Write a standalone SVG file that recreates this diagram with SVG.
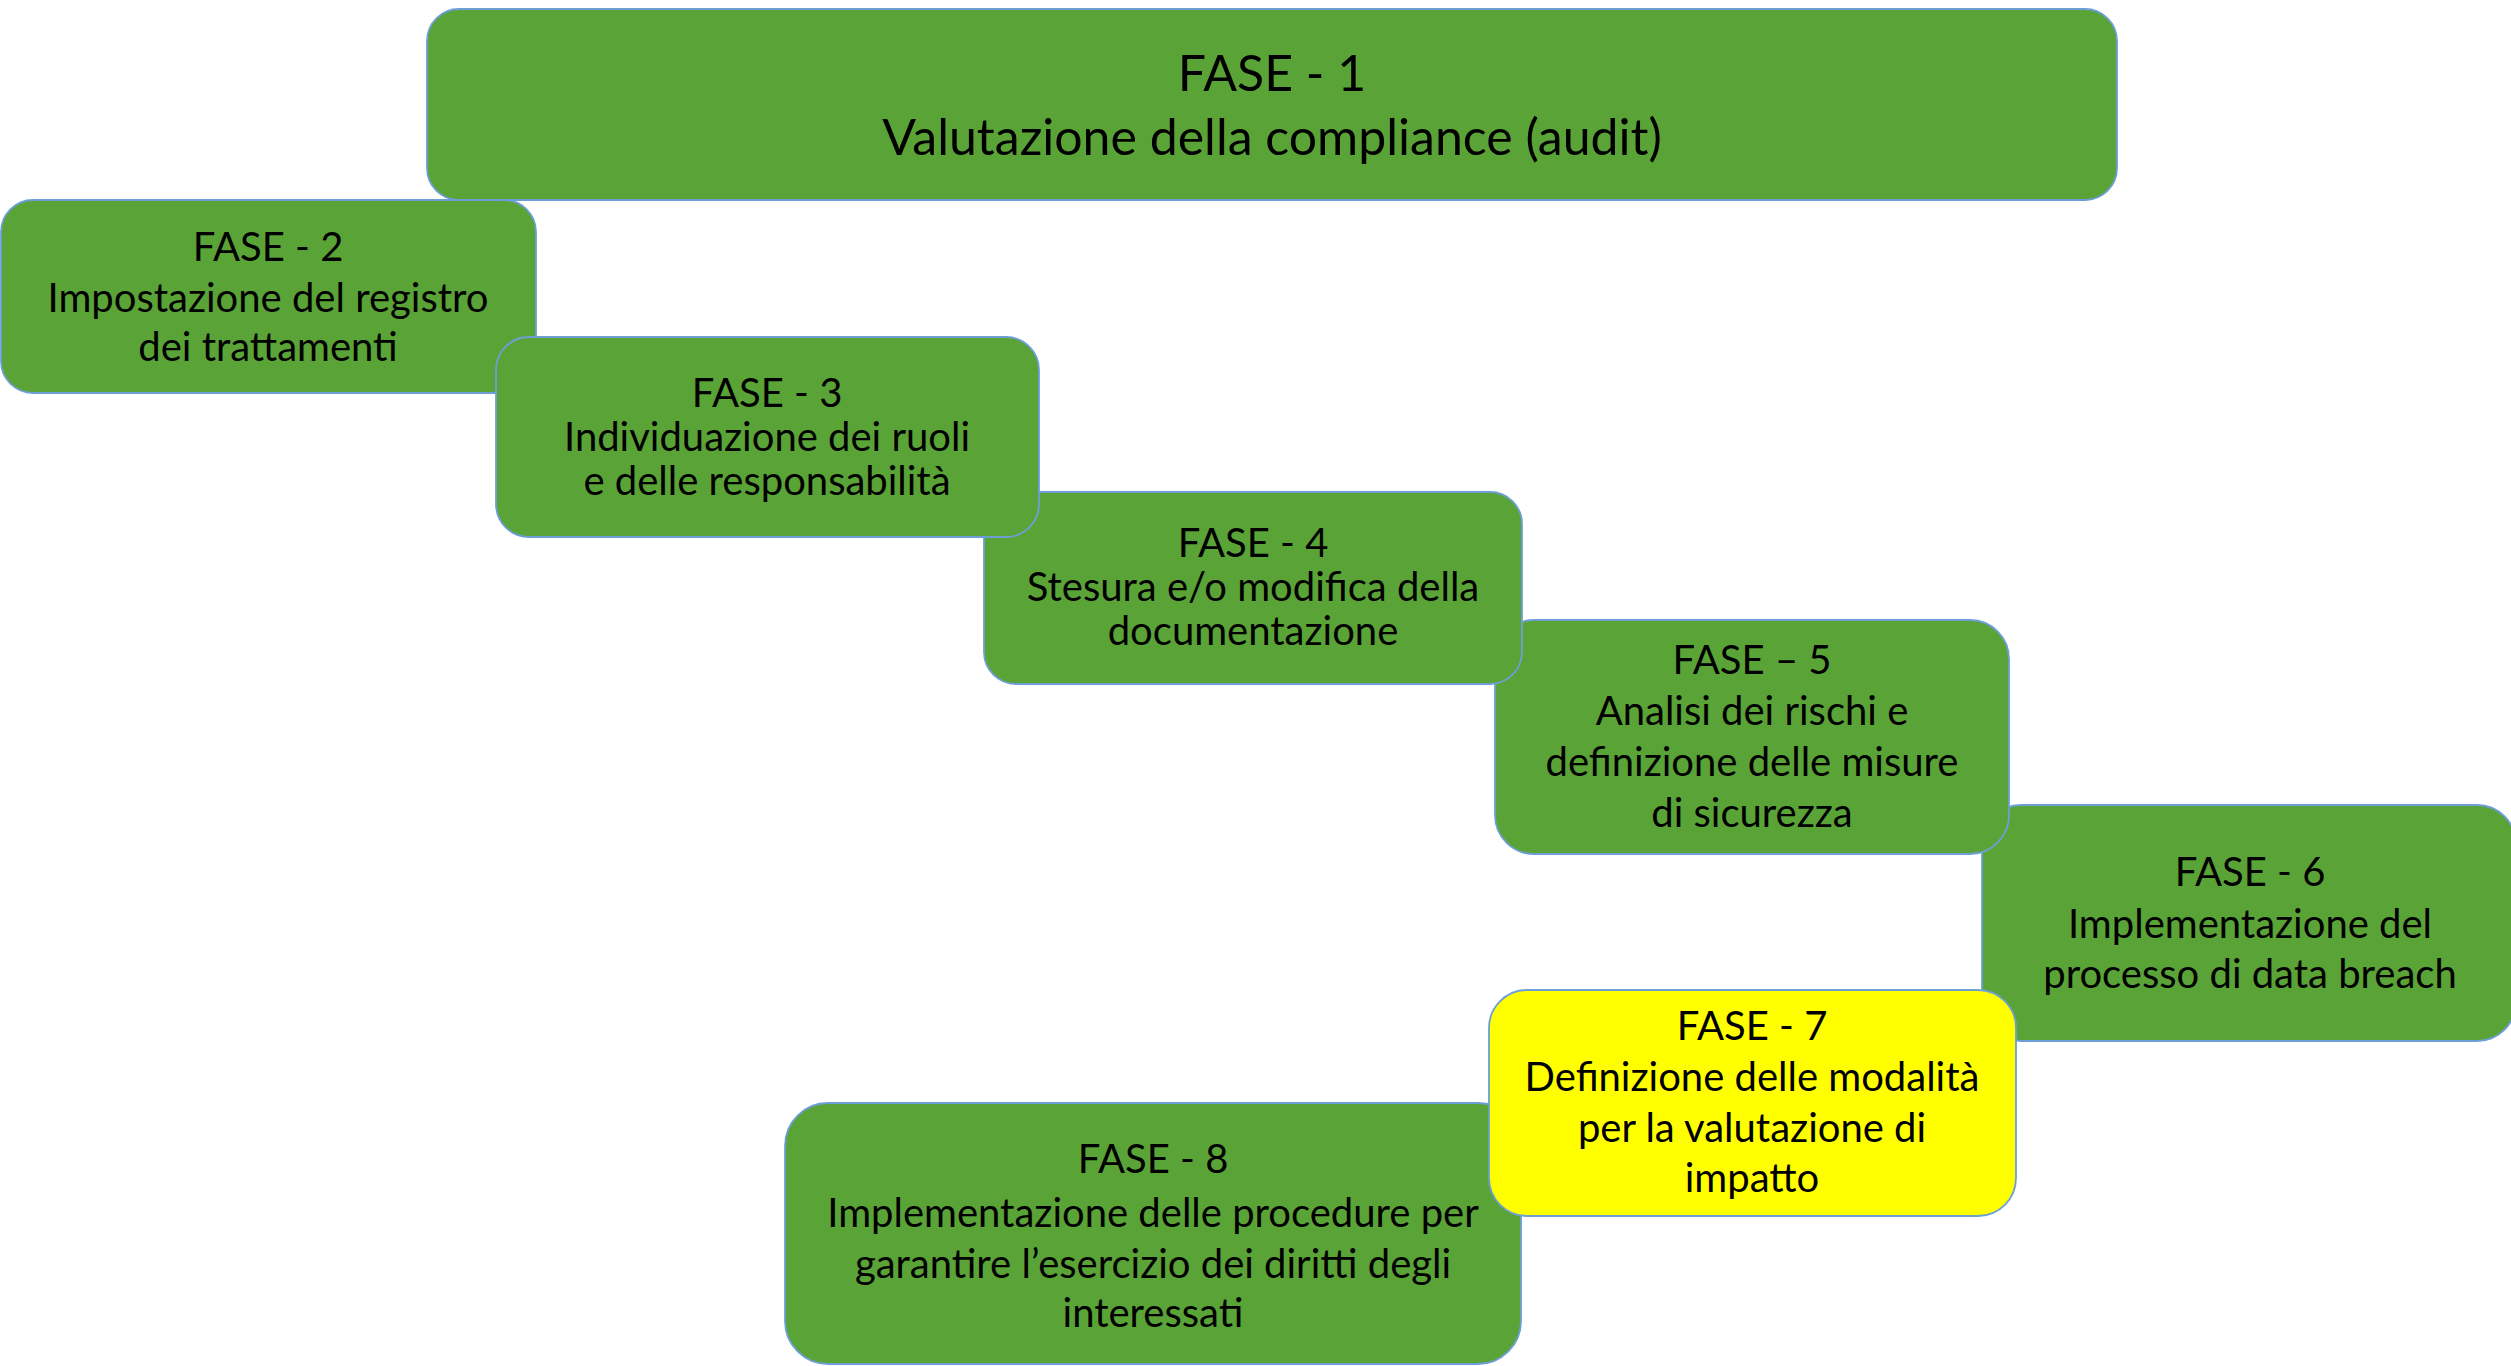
<svg xmlns="http://www.w3.org/2000/svg" width="2511" height="1366" viewBox="0 0 2511 1366">
<style>
.box{fill:#5aa336;stroke:#6d9fd6;stroke-width:1.8}
.yel{fill:#ffff00;stroke:#6d9fd6;stroke-width:1.8}
text{font-family:Lato,"Open Sans","Liberation Sans",sans-serif;fill:#000;text-anchor:middle}
.t1{font-size:50px}
.t{font-size:40px}
</style>
<rect width="2511" height="1366" fill="#ffffff"/>
<g id="connectors"></g>
<g id="fase1">
<rect class="box" x="427" y="9" width="1690" height="191" rx="32" ry="32"/>
<text class="t1" x="1272" y="91">FASE - 1</text>
<text class="t1" x="1272" y="155">Valutazione della compliance (audit)</text>
</g>
<g id="fase2">
<rect class="box" x="1" y="200" width="535" height="193" rx="32" ry="32"/>
<text class="t" x="268" y="261">FASE - 2</text>
<text class="t" x="268" y="312">Impostazione del registro</text>
<text class="t" x="268" y="361">dei trattamenti</text>
</g>
<g id="fase6">
<rect class="box" x="1982" y="805" width="534" height="236" rx="39" ry="39"/>
<text class="t" x="2250" y="886">FASE - 6</text>
<text class="t" x="2250" y="938">Implementazione del</text>
<text class="t" x="2250" y="988">processo di data breach</text>
</g>
<g id="fase5">
<rect class="box" x="1495" y="620" width="514" height="234" rx="39" ry="39"/>
<text class="t" x="1752" y="674">FASE – 5</text>
<text class="t" x="1752" y="725">Analisi dei rischi e</text>
<text class="t" x="1752" y="776">definizione delle misure</text>
<text class="t" x="1752" y="827">di sicurezza</text>
</g>
<g id="fase4">
<rect class="box" x="984" y="492" width="538" height="192" rx="32" ry="32"/>
<text class="t" x="1253" y="557">FASE - 4</text>
<text class="t" x="1253" y="601">Stesura e/o modifica della</text>
<text class="t" x="1253" y="645">documentazione</text>
</g>
<g id="fase3">
<rect class="box" x="496" y="337" width="543" height="200" rx="33" ry="33"/>
<text class="t" x="767" y="407">FASE - 3</text>
<text class="t" x="767" y="451">Individuazione dei ruoli</text>
<text class="t" x="767" y="495">e delle responsabilità</text>
</g>
<g id="fase8">
<rect class="box" x="785" y="1103" width="736" height="261" rx="43" ry="43"/>
<text class="t" x="1153" y="1173">FASE - 8</text>
<text class="t" x="1153" y="1227">Implementazione delle procedure per</text>
<text class="t" x="1153" y="1278">garantire l’esercizio dei diritti degli</text>
<text class="t" x="1153" y="1327">interessati</text>
</g>
<g id="fase7">
<rect class="yel" x="1489" y="990" width="527" height="226" rx="38" ry="38"/>
<text class="t" x="1752" y="1040">FASE - 7</text>
<text class="t" x="1752" y="1091">Definizione delle modalità</text>
<text class="t" x="1752" y="1142">per la valutazione di</text>
<text class="t" x="1752" y="1192">impatto</text>
</g>
</svg>
